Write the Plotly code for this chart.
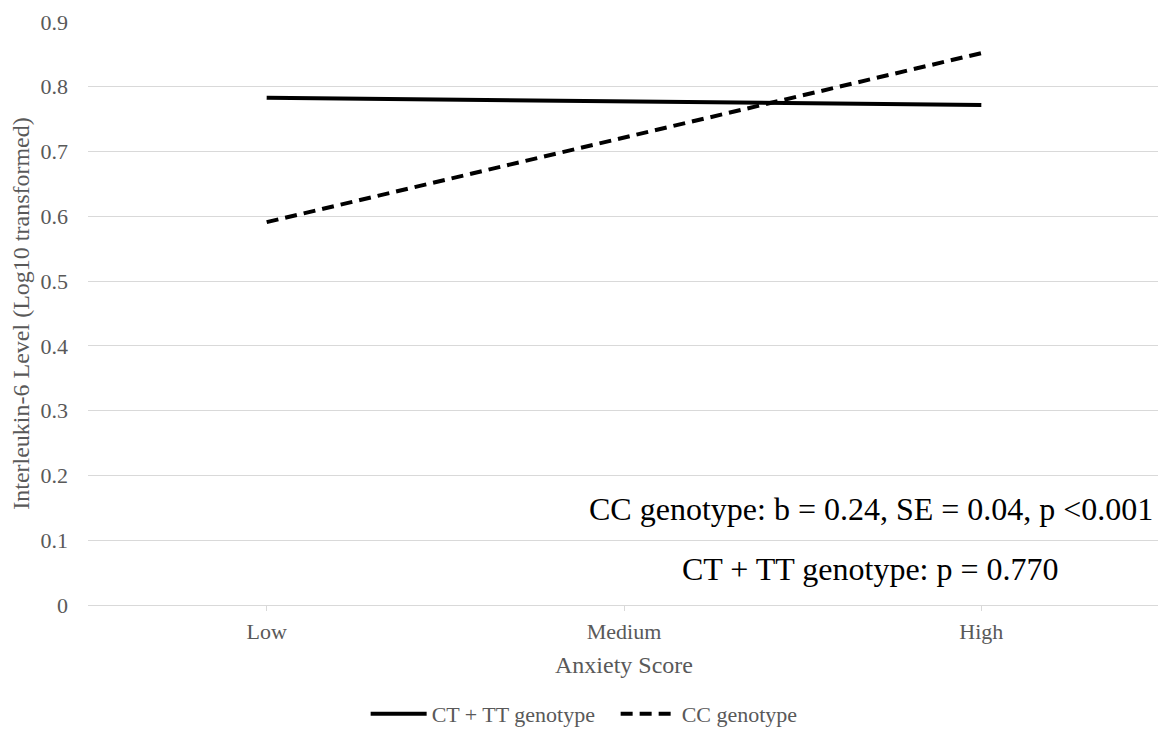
import plotly.graph_objects as go

categories = ["Low", "Medium", "High"]
ct_tt_values = [0.783, 0.778, 0.772]
cc_values = [0.591, 0.722, 0.852]
y_ticks = [0, 0.1, 0.2, 0.3, 0.4, 0.5, 0.6, 0.7, 0.8, 0.9]
y_tick_labels = ["0", "0.1", "0.2", "0.3", "0.4", "0.5", "0.6", "0.7", "0.8", "0.9"]

FONT = "Liberation Serif"
GRAY = "#595959"

fig = go.Figure()
fig.add_trace(go.Scatter(
    x=categories, y=ct_tt_values, mode="lines", name="CT + TT genotype",
    line=dict(color="black", width=4),
))
fig.add_trace(go.Scatter(
    x=categories, y=cc_values, mode="lines", name="CC genotype",
    line=dict(color="black", width=4, dash="12px,7px"),
))

fig.add_annotation(
    x=0.730, y=0.165, xref="paper", yref="paper",
    text="CC genotype: b = 0.24, SE = 0.04, p <0.001",
    showarrow=False, font=dict(family=FONT, size=32, color="black"),
    xanchor="center", yanchor="middle",
)
fig.add_annotation(
    x=0.730, y=0.0615, xref="paper", yref="paper",
    text="CT + TT genotype: p = 0.770",
    showarrow=False, font=dict(family=FONT, size=32, color="black"),
    xanchor="center", yanchor="middle",
)

fig.update_layout(
    width=1166, height=752,
    margin=dict(l=80, r=14, t=14, b=155),
    paper_bgcolor="white", plot_bgcolor="white",
    font=dict(family=FONT, color=GRAY, size=22),
    showlegend=True,
    legend=dict(
        orientation="h", x=0.259, y=-0.187, xanchor="left", yanchor="middle",
        font=dict(family=FONT, size=22, color=GRAY),
        itemwidth=56, traceorder="normal",
        entrywidth=179, entrywidthmode="pixels",
    ),
    xaxis=dict(
        type="category", range=[-0.5, 2.5],
        showgrid=False, showline=True, linecolor="#d9d9d9", linewidth=1,
        ticks="outside", ticklen=5, tickcolor="#d9d9d9",
        tickfont=dict(family=FONT, size=22, color=GRAY),
        ticklabelstandoff=2,
        title=dict(text="Anxiety Score", font=dict(family=FONT, size=24, color=GRAY), standoff=12),
        zeroline=False, automargin=False,
    ),
    yaxis=dict(
        range=[0, 0.9], tickvals=y_ticks, ticktext=y_tick_labels,
        showgrid=True, gridcolor="#d9d9d9", gridwidth=1,
        showline=False, zeroline=False,
        tickfont=dict(family=FONT, size=22, color=GRAY),
        ticklabelstandoff=19,
        title=dict(text="Interleukin-6 Level (Log10 transformed)", font=dict(family=FONT, size=24, color=GRAY), standoff=6),
        automargin=False,
    ),
)

fig.write_html("out.html")
